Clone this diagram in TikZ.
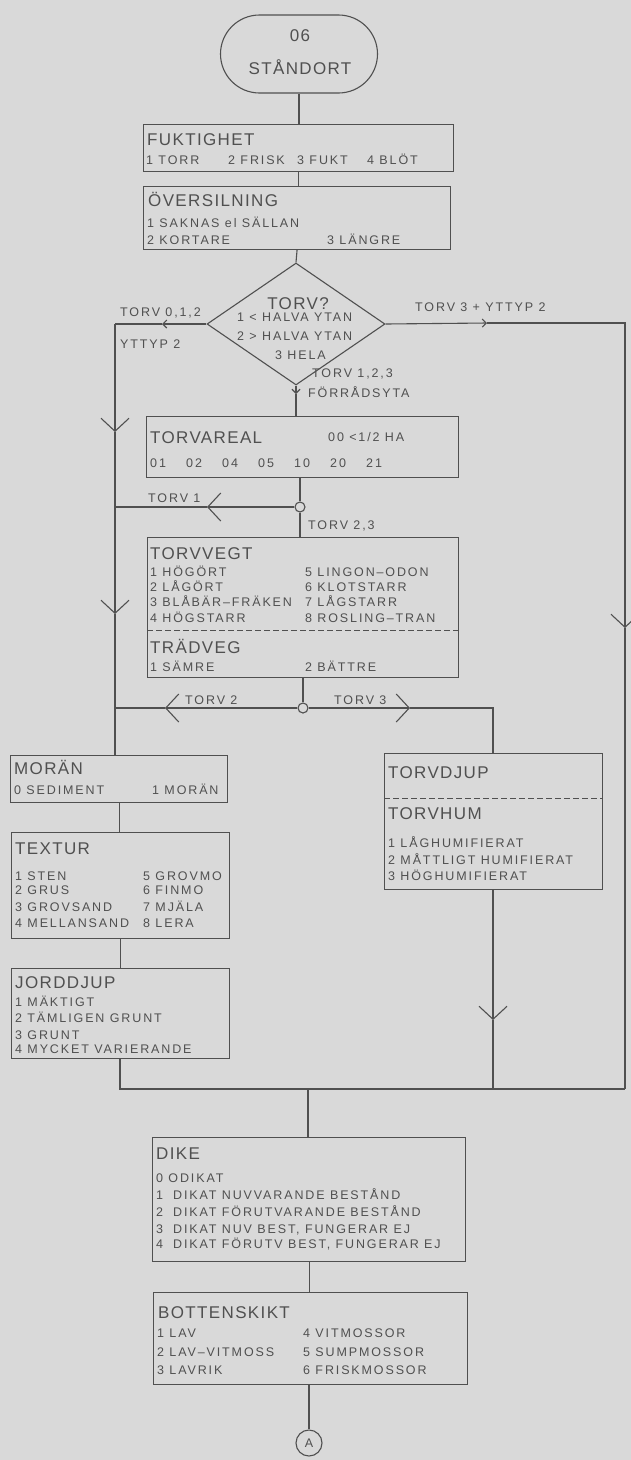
\documentclass[tikz,border=0pt]{standalone}
\usepackage{fontspec}
\setmainfont{Liberation Sans}
\newfontfamily\plotfont[LetterSpace=15]{Liberation Sans}
\newfontfamily\plotbig[LetterSpace=8]{Liberation Sans}
\usetikzlibrary{arrows.meta,shapes.geometric}
\definecolor{ink}{HTML}{505050}
\definecolor{paper}{HTML}{D9D9D9}
\newcommand{\itmfont}{\plotfont\fontsize{12.5pt}{16pt}\selectfont}
\newcommand{\ttlfont}{\plotbig\fontsize{17pt}{20pt}\selectfont}
\tikzset{
  box/.style={rectangle, draw=ink, line width=1.1pt, inner sep=0pt, anchor=north west},
  ttl/.style={anchor=base west, inner sep=0pt, text=ink, font=\ttlfont},
  itm/.style={anchor=base west, inner sep=0pt, text=ink, font=\itmfont},
  wire/.style={draw=ink, line width=1.1pt},
  chev/.style={wire, -{Straight Barb[length=13pt, width=28pt]}},
  tick/.style={wire, -{Straight Barb[length=4pt, width=8pt]}},
  junc/.style={circle, draw=ink, line width=1.1pt, minimum size=10pt, inner sep=0pt},
  sep/.style={draw=ink, line width=1pt, dash pattern=on 6pt off 3pt},
}

\begin{document}
\begin{tikzpicture}[x=1pt, y=-1pt]
  \fill[paper] (0,0) rectangle (631,1460);
  \useasboundingbox (0,0) rectangle (631,1460);

  % start
  \node[rectangle, rounded corners=39pt, draw=ink, line width=1.1pt, minimum width=157pt, minimum height=78pt] (stand) at (299,54) {};
  \node[ttl, anchor=base] (st1) at (300,41) {06};
  \node[ttl, anchor=base] (st2) at (300,74) {STÅNDORT};

  % fuktighet, oversilning
  \node[box, minimum width=310pt, minimum height=47pt] (fukt) at (143,124) {};
  \node[ttl] (fukt1) at (147,145) {FUKTIGHET};
  \node[itm] (fukt2) at (146,164.5) {\makebox[82pt][l]{1 TORR}\makebox[69pt][l]{2 FRISK}\makebox[70pt][l]{3 FUKT}4 BLÖT};
  \node[box, minimum width=307pt, minimum height=63pt] (over) at (143,186) {};
  \node[ttl] (over1) at (148,206) {ÖVERSILNING};
  \node[itm] (over2) at (147,227.5) {1 SAKNAS el SÄLLAN};
  \node[itm] (over3) at (147,244.5) {\makebox[180pt][l]{2 KORTARE}3 LÄNGRE};

  % torv?
  \node[diamond, draw=ink, line width=1.1pt, minimum width=178pt, minimum height=122pt, inner sep=0pt] (torv) at (296,324) {};
  \node[ttl, anchor=base] (torv1) at (298,309) {TORV?};
  \node[itm] (torv2) at (237,321.5) {1 < HALVA YTAN};
  \node[itm] (torv3) at (237,340.5) {2 > HALVA YTAN};
  \node[itm] (torv4) at (275,359.5) {3 HELA};
  \node[itm] (l1) at (120,316) {TORV 0,1,2};
  \node[itm] (l2) at (120,348.5) {YTTYP 2};
  \node[itm] (l3) at (415,311.5) {TORV 3 + YTTYP 2};
  \node[itm] (l4) at (312,377.5) {TORV 1,2,3};
  \node[itm] (l5) at (308,397.5) {FÖRRÅDSYTA};

  % torvareal
  \node[box, minimum width=312pt, minimum height=61pt] (areal) at (146,416) {};
  \node[ttl] (areal1) at (150,443) {TORVAREAL};
  \node[itm] (areal2) at (328,441.5) {00 <1/2 HA};
  \node[itm] (areal3) at (150,467.5) {\makebox[36pt][l]{01}\makebox[36pt][l]{02}\makebox[36pt][l]{04}\makebox[36pt][l]{05}\makebox[36pt][l]{10}\makebox[36pt][l]{20}21};
  \node[junc] (j1) at (300,507) {};
  \node[itm] (l6) at (148,502.5) {TORV 1};
  \node[itm] (l7) at (308,529.5) {TORV 2,3};

  % torvvegt / tradveg
  \node[box, minimum width=311pt, minimum height=140pt] (vegt) at (147,537) {};
  \node[ttl] (vegt1) at (150,559) {TORVVEGT};
  \node[itm] (vegt2) at (150,576.5) {\makebox[155pt][l]{1 HÖGÖRT}5 LINGON–ODON};
  \node[itm] (vegt3) at (150,591.5) {\makebox[155pt][l]{2 LÅGÖRT}6 KLOTSTARR};
  \node[itm] (vegt4) at (150,606.5) {\makebox[155pt][l]{3 BLÅBÄR–FRÄKEN}7 LÅGSTARR};
  \node[itm] (vegt5) at (150,622.5) {\makebox[155pt][l]{4 HÖGSTARR}8 ROSLING–TRAN};
  \draw[sep] (147,630) -- (458,630);
  \node[ttl] (trad1) at (150,653) {TRÄDVEG};
  \node[itm] (trad2) at (150,671.5) {\makebox[155pt][l]{1 SÄMRE}2 BÄTTRE};
  \node[junc] (j2) at (303,708) {};
  \node[itm] (l8) at (185,704.5) {TORV 2};
  \node[itm] (l9) at (334,704.5) {TORV 3};

  % left branch
  \node[box, minimum width=217pt, minimum height=47pt] (moran) at (10,755) {};
  \node[ttl] (moran1) at (14,774) {MORÄN};
  \node[itm] (moran2) at (14,794.5) {\makebox[138pt][l]{0 SEDIMENT}1 MORÄN};
  \node[box, minimum width=218pt, minimum height=106pt] (textur) at (11,832) {};
  \node[ttl] (textur1) at (15,854) {TEXTUR};
  \node[itm] (textur2) at (15,880.5) {\makebox[128pt][l]{1 STEN}5 GROVMO};
  \node[itm] (textur3) at (15,894.5) {\makebox[128pt][l]{2 GRUS}6 FINMO};
  \node[itm] (textur4) at (15,911.5) {\makebox[128pt][l]{3 GROVSAND}7 MJÄLA};
  \node[itm] (textur5) at (15,927.5) {\makebox[128pt][l]{4 MELLANSAND}8 LERA};
  \node[box, minimum width=218pt, minimum height=90pt] (jord) at (11,968) {};
  \node[ttl] (jord1) at (15,988) {JORDDJUP};
  \node[itm] (jord2) at (15,1006.5) {1 MÄKTIGT};
  \node[itm] (jord3) at (15,1022.5) {2 TÄMLIGEN GRUNT};
  \node[itm] (jord4) at (15,1039.5) {3 GRUNT};
  \node[itm] (jord5) at (15,1053.5) {4 MYCKET VARIERANDE};

  % right branch
  \node[box, minimum width=218pt, minimum height=136pt] (djup) at (384,753) {};
  \node[ttl] (djup1) at (388,778) {TORVDJUP};
  \draw[sep] (384,798) -- (602,798);
  \node[ttl] (hum1) at (388,819) {TORVHUM};
  \node[itm] (hum2) at (388,847.5) {1 LÅGHUMIFIERAT};
  \node[itm] (hum3) at (388,864.5) {2 MÅTTLIGT HUMIFIERAT};
  \node[itm] (hum4) at (388,880.5) {3 HÖGHUMIFIERAT};

  % dike, bottenskikt
  \node[box, minimum width=313pt, minimum height=124pt] (dike) at (152,1137) {};
  \node[ttl] (dike1) at (156,1159) {DIKE};
  \node[itm] (dike2) at (156,1182.5) {0 ODIKAT};
  \node[itm] (dike3) at (156,1199.5) {\makebox[17pt][l]{1}DIKAT NUVVARANDE BESTÅND};
  \node[itm] (dike4) at (156,1216.5) {\makebox[17pt][l]{2}DIKAT FÖRUTVARANDE BESTÅND};
  \node[itm] (dike5) at (156,1233.5) {\makebox[17pt][l]{3}DIKAT NUV BEST, FUNGERAR EJ};
  \node[itm] (dike6) at (156,1248.5) {\makebox[17pt][l]{4}DIKAT FÖRUTV BEST, FUNGERAR EJ};
  \node[box, minimum width=314pt, minimum height=92pt] (bott) at (153,1292) {};
  \node[ttl] (bott1) at (158,1318) {BOTTENSKIKT};
  \node[itm] (bott2) at (157,1337.5) {\makebox[146pt][l]{1 LAV}4 VITMOSSOR};
  \node[itm] (bott3) at (157,1356.5) {\makebox[146pt][l]{2 LAV–VITMOSS}5 SUMPMOSSOR};
  \node[itm] (bott4) at (157,1374.5) {\makebox[146pt][l]{3 LAVRIK}6 FRISKMOSSOR};
  \node[junc, minimum size=26pt, font=\itmfont, text=ink] (ca) at (309,1443) {A};

  % corners and marks
  \coordinate (lt1) at (115,324);
  \coordinate (rt1) at (625,323);
  \coordinate (bl) at (120,1089);
  \coordinate (br) at (625,1089);
  \coordinate (bm) at (308,1089);
  \coordinate (rb1) at (493,708);
  \coordinate (tk1) at (162,324);
  \coordinate (tk2) at (487,323);
  \coordinate (tk3) at (296,394);
  \coordinate (cv1) at (115,432);
  \coordinate (cv2) at (115,614);
  \coordinate (cv3) at (207,507);
  \coordinate (cv4) at (165,708);
  \coordinate (cv5) at (625,628);
  \coordinate (cv6) at (410,708);
  \coordinate (cv7) at (493,1020);

  % connectors
  \draw[wire] (stand.south) -- (stand.south |- fukt.north);
  \draw[wire] (fukt.south) -- (fukt.south |- over.north);
  \draw[wire] (over.south) -- (torv.north);
  \draw[tick] (torv.west) -- (tk1); \draw[wire] (tk1) -- (lt1);
  \draw[chev] (lt1) -- (cv1); \draw[chev] (cv1) -- (cv2); \draw[wire] (cv2) -- (lt1 |- moran.north);
  \draw[tick] (torv.east) -- (tk2); \draw[chev] (tk2) -- (rt1) -- (cv5); \draw[wire] (cv5) -- (br);
  \draw[tick] (torv.south) -- (tk3); \draw[wire] (tk3) -- (tk3 |- areal.north);
  \draw[wire] (j1 |- areal.south) -- (j1); \draw[wire] (j1) -- (j1 |- vegt.north);
  \draw[chev] (j1) -- (cv3); \draw[wire] (cv3) -- (cv3 -| lt1);
  \draw[wire] (j2 |- vegt.south) -- (j2);
  \draw[chev] (j2) -- (cv4); \draw[wire] (cv4) -- (cv4 -| lt1);
  \draw[chev] (j2) -- (cv6); \draw[wire] (cv6) -- (rb1) -- (rb1 |- djup.north);
  \draw[wire] (moran.south) -- (moran.south |- textur.north);
  \draw[wire] (textur.south) -- (textur.south |- jord.north);
  \draw[wire] (bl |- jord.south) -- (bl) -- (br);
  \draw[chev] (rb1 |- djup.south) -- (cv7); \draw[wire] (cv7) -- (cv7 |- br);
  \draw[wire] (bm) -- (bm |- dike.north);
  \draw[wire] (dike.south) -- (dike.south |- bott.north);
  \draw[wire] (bott.south -| ca) -- (ca);
\end{tikzpicture}
\end{document}
